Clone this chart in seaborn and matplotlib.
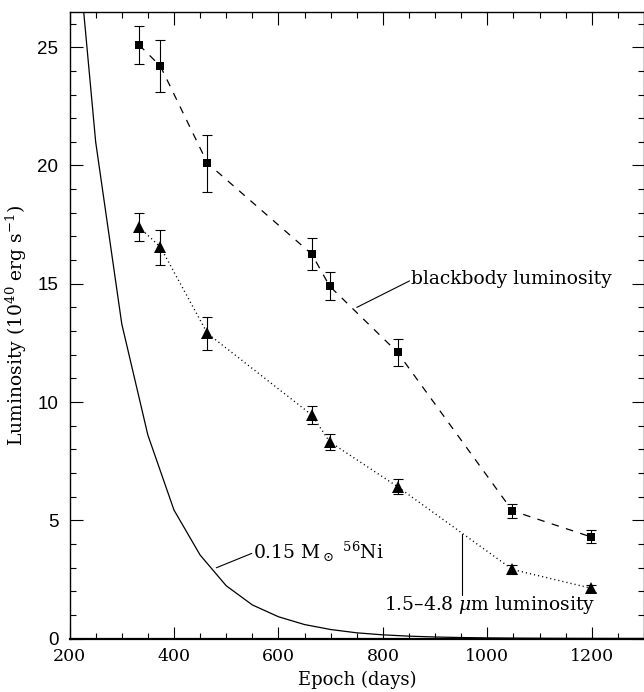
import matplotlib
matplotlib.use("Agg")
import matplotlib.pyplot as plt
import seaborn as sns
import pandas as pd

# ---- data ----
epochs = [333, 374, 464, 664, 698, 828, 1048, 1198]
bb_lum = [25.1, 24.2, 20.1, 16.25, 14.9, 12.1, 5.4, 4.3]
bb_err = [0.8, 1.1, 1.2, 0.68, 0.58, 0.58, 0.29, 0.28]
ir_lum = [17.4, 16.55, 12.9, 9.45, 8.32, 6.42, 2.92, 2.13]
ir_err = [0.6, 0.74, 0.71, 0.4, 0.33, 0.32, 0.18, 0.15]
ni_epoch = [200, 250, 300, 350, 400, 450, 500, 550, 600, 650, 700, 750,
            800, 850, 900, 950, 1000, 1050, 1100, 1150, 1200, 1250, 1300]
ni_lum = [33.0, 21.0, 13.3, 8.6, 5.43, 3.53, 2.23, 1.42, 0.92, 0.59, 0.38,
          0.24, 0.155, 0.10, 0.064, 0.041, 0.026, 0.017, 0.011, 0.007,
          0.0045, 0.003, 0.002]
x_ticks = [200, 400, 600, 800, 1000, 1200]
y_ticks = [0, 5, 10, 15, 20, 25]

sns.set_style("ticks")
plt.rcParams["font.family"] = ["DejaVu Serif"]
plt.rcParams["mathtext.fontset"] = "dejavuserif"
for key in ["text.color", "axes.labelcolor", "xtick.color", "ytick.color",
            "axes.edgecolor"]:
    plt.rcParams[key] = "black"

fig = plt.figure(figsize=(6.44, 6.92), dpi=100)
ax = fig.add_axes([0.108, 0.0773, 0.892, 0.9057])

bb = pd.DataFrame({"epoch": epochs, "lum": bb_lum, "err": bb_err})
ir = pd.DataFrame({"epoch": epochs, "lum": ir_lum, "err": ir_err})
ni = pd.DataFrame({"epoch": ni_epoch, "lum": ni_lum})

sns.lineplot(data=ni, x="epoch", y="lum", ax=ax, color="black", lw=0.9,
             sort=False)
sns.lineplot(data=bb, x="epoch", y="lum", ax=ax, color="black", lw=0.9,
             dashes=False, linestyle=(0, (6, 6)), marker="s", markersize=6,
             markeredgewidth=0, sort=False)
sns.lineplot(data=ir, x="epoch", y="lum", ax=ax, color="black", lw=1.0,
             linestyle=(0, (0.8, 2.2)), marker="^", markersize=8,
             markeredgewidth=0, sort=False)
ax.errorbar(bb["epoch"], bb["lum"], yerr=bb["err"], fmt="none",
            ecolor="black", elinewidth=0.8, capsize=3.8, capthick=0.8)
ax.errorbar(ir["epoch"], ir["lum"], yerr=ir["err"], fmt="none",
            ecolor="black", elinewidth=0.8, capsize=3.8, capthick=0.8)

ax.set_xlim(200, 1300)
ax.set_ylim(0, 26.5)
ax.set_xticks(x_ticks)
ax.set_xticklabels([str(t) for t in x_ticks], fontsize=12.5)
ax.set_yticks(y_ticks)
ax.set_yticklabels([str(t) for t in y_ticks], fontsize=13.5,
                   family="Liberation Sans")
ax.set_xticks(range(200, 1301, 50), minor=True)
ax.set_yticks(range(0, 27, 1), minor=True)
ax.tick_params(which="both", direction="in", top=True, right=True,
               width=0.8, color="black", labelcolor="black")
ax.tick_params(which="major", length=9)
ax.tick_params(which="minor", length=4.3)
ax.tick_params(axis="x", which="major", pad=7)
ax.tick_params(axis="y", which="major", pad=8)

for s in ["left", "right", "top"]:
    ax.spines[s].set_linewidth(1.0)
    ax.spines[s].set_color("black")
ax.spines["bottom"].set_linewidth(1.6)
ax.spines["bottom"].set_color("black")

ax.set_xlabel("Epoch (days)", fontsize=13, labelpad=4)
ax.set_ylabel(r"Luminosity (10$^{40}$ erg s$^{-1}$)", fontsize=13.5,
              labelpad=6)

# annotations
ax.plot([750, 851], [14.0, 15.12], color="black", lw=0.8)
ax.text(853, 15.2, "blackbody luminosity", fontsize=13.5, va="center",
        ha="left")
ax.plot([481, 549], [2.99, 3.6], color="black", lw=0.8)
ax.text(551, 3.65, r"0.15 M$_\odot$ $^{56}$Ni", fontsize=13.5, va="center",
        ha="left")
ax.plot([952, 952], [4.4, 1.84], color="black", lw=0.8)
ax.text(803, 1.42, r"1.5–4.8 $\mu$m luminosity", fontsize=13.5,
        va="center", ha="left")

fig.savefig("out.png", dpi=100)
